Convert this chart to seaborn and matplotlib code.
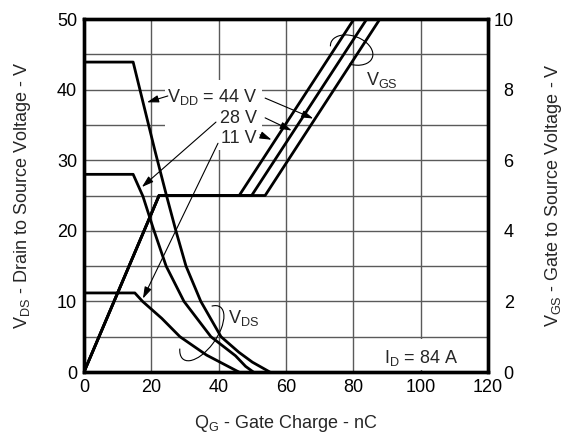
import matplotlib
matplotlib.use("Agg")
import matplotlib.pyplot as plt
import matplotlib.transforms as mtransforms
from matplotlib.patches import Rectangle, Arc
from matplotlib.ticker import MultipleLocator
import seaborn as sns

# ---- data ----
# VDS curves (left axis, V) vs gate charge (nC)
q44 = [0, 14.6, 18.0, 21.1, 24.5, 27.3, 30.3, 34.7, 40.7, 46.0, 50.0, 55.2]
v44 = [43.9, 43.9, 37.3, 31.3, 25.0, 20.0, 15.0, 10.0, 5.0, 2.8, 1.4, 0.0]
q28 = [0, 14.6, 17.5, 20.6, 24.4, 29.7, 37.7, 45.0, 48.0, 50.3]
v28 = [28.0, 28.0, 24.9, 20.3, 15.0, 10.0, 5.0, 2.3, 0.8, 0.0]
q11 = [0, 15.1, 17.4, 23.1, 28.5, 36.4, 40.4, 46.0]
v11 = [11.2, 11.2, 10.0, 7.6, 5.0, 2.4, 1.4, 0.0]
# VGS curves (right axis, V)
qg11 = [0, 22.3, 46.1, 80.2]
qg28 = [0, 22.3, 49.8, 84.0]
qg44 = [0, 22.3, 53.8, 87.9]
vgs = [0, 5, 5, 10]

xticks = [0, 20, 40, 60, 80, 100, 120]
yticks_left = [0, 10, 20, 30, 40, 50]
yticks_right = [0, 2, 4, 6, 8, 10]

# annotation arrows: (tail, head) in left-axis data coords
arrow_44_vds = ((24.9, 39.1), (18.7, 38.2))
arrow_28_vds = ((39.2, 35.4), (17.2, 26.2))
arrow_11_vds = ((39.8, 32.4), (17.5, 10.4))
arrow_44_vgs = ((53.8, 38.8), (68.1, 35.9))
arrow_28_vgs = ((53.8, 36.0), (61.7, 34.2))
arrow_11_vgs = ((52.3, 33.6), (55.7, 32.9))

# ---- style ----
sns.set_style("white")
plt.rcParams["font.family"] = ["Liberation Sans", "DejaVu Sans"]
plt.rcParams["mathtext.fontset"] = "custom"
plt.rcParams["mathtext.rm"] = "Liberation Sans"
FS = 13
GRID = "#5a5a5a"

fig = plt.figure(figsize=(5.66, 4.37), dpi=100)
ax = fig.add_axes([0.1484, 0.1487, 0.7138, 0.8078])
ax.set_xlim(0, 120)
ax.set_ylim(0, 50)
ax.set_xticks(xticks)
ax.set_yticks(yticks_left)
ax.yaxis.set_minor_locator(MultipleLocator(5))
ax.set_axisbelow(True)
ax.grid(True, which="both", color=GRID, lw=1.0)
ax.tick_params(axis="both", which="both", length=0, labelsize=FS, pad=5, colors="black")
for s in ax.spines.values():
    s.set_linewidth(2.4)
    s.set_color("black")
    s.set_zorder(5)

ax2 = ax.twinx()
ax2.set_ylim(0, 10)
ax2.set_yticks(yticks_right)
ax2.grid(False)
ax2.tick_params(axis="y", length=0, labelsize=FS, pad=18.5, colors="black")
for lab in ax2.get_yticklabels():
    lab.set_horizontalalignment("right")
for s in ax2.spines.values():
    s.set_linewidth(2.4)
    s.set_color("black")

# white masks behind text blocks
ax.add_patch(Rectangle((24.1, 31.4), 28.8, 10.0, facecolor="white", edgecolor="none", zorder=1))
ax.add_patch(Rectangle((87.0, 0.3), 26.5, 4.4, facecolor="white", edgecolor="none", zorder=1))

LW = 2.0
for q, v in [(q44, v44), (q28, v28), (q11, v11)]:
    sns.lineplot(x=q, y=v, ax=ax, color="black", lw=LW, sort=False, estimator=None, zorder=3)
for q in [qg11, qg28, qg44]:
    sns.lineplot(x=q, y=vgs, ax=ax2, color="black", lw=LW, sort=False, estimator=None, zorder=3)

ax.set_xlim(0, 120); ax.set_ylim(0, 50)
ax2.set_ylim(0, 10)

# texts
ax.text(51.4, 38.3, r"V$_{\mathregular{DD}}$ = 44 V", ha="right", va="baseline", fontsize=FS, zorder=4)
ax.text(51.4, 35.3, "28 V", ha="right", va="baseline", fontsize=FS, zorder=4)
ax.text(51.4, 32.5, "11 V", ha="right", va="baseline", fontsize=FS, zorder=4)
ax.text(83.8, 40.6, r"V$_{\mathregular{GS}}$", ha="left", va="baseline", fontsize=FS, zorder=4)
ax.text(42.9, 6.9, r"V$_{\mathregular{DS}}$", ha="left", va="baseline", fontsize=FS, zorder=4)
ax.text(111.1, 1.3, r"I$_{\mathregular{D}}$ = 84 A", ha="right", va="baseline", fontsize=FS, zorder=4)

for tail, head in [arrow_44_vds, arrow_28_vds, arrow_11_vds, arrow_44_vgs, arrow_28_vgs, arrow_11_vgs]:
    ax.annotate("", xy=head, xytext=tail,
                arrowprops=dict(arrowstyle="-|>,head_length=0.7,head_width=0.22",
                                lw=0.8, color="black", shrinkA=0, shrinkB=0),
                zorder=4)

# curl marks around the curve groups (size in inches, centred in data coords)
t1 = fig.dpi_scale_trans + mtransforms.ScaledTranslation(79.5, 45.6, ax.transData)
ax.add_patch(Arc((0, 0), 0.44, 0.28, angle=-20, theta1=-80, theta2=190,
                 transform=t1, color="black", lw=0.8, zorder=4))
t2 = fig.dpi_scale_trans + mtransforms.ScaledTranslation(35.0, 5.5, ax.transData)
ax.add_patch(Arc((0, 0), 0.64, 0.30, angle=55, theta1=160, theta2=375,
                 transform=t2, color="black", lw=0.8, zorder=4))

ax.set_xlabel(r"Q$_{\mathregular{G}}$ - Gate Charge - nC", fontsize=FS, labelpad=12)
ax.set_ylabel(r"V$_{\mathregular{DS}}$ - Drain to Source Voltage - V", fontsize=FS, labelpad=17)
ax2.set_ylabel(r"V$_{\mathregular{GS}}$ - Gate to Source Voltage - V", fontsize=FS, labelpad=21)

fig.savefig("out.png", dpi=100)
